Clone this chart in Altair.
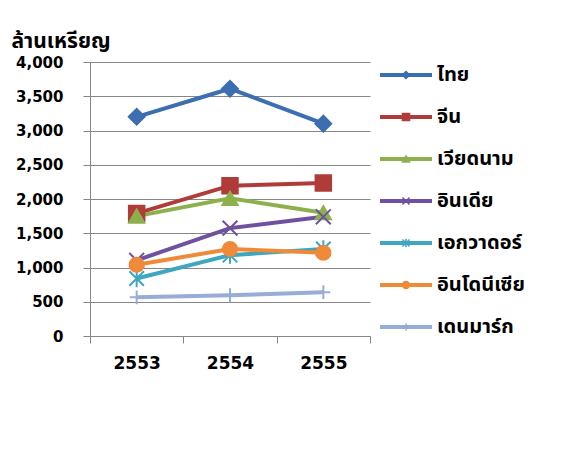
import altair as alt
import pandas as pd

years = ["2553", "2554", "2555"]
countries = ["ไทย", "จีน", "เวียดนาม", "อินเดีย", "เอกวาดอร์", "อินโดนีเซีย", "เดนมาร์ก"]
thai = [3200, 3610, 3100]
china = [1790, 2195, 2235]
vietnam = [1750, 2010, 1800]
india = [1105, 1575, 1740]
ecuador = [840, 1180, 1270]
indonesia = [1040, 1270, 1215]
denmark = [565, 595, 640]
y_title = "ล้านเหรียญ"

series = [thai, china, vietnam, india, ecuador, indonesia, denmark]
colors = ["#3c6eb0", "#b03c39", "#8cb14c", "#6f519f", "#3ea6bf", "#ee8a38", "#97acd6"]
shapes = [
    "diamond",
    "square",
    "triangle-up",
    "M-1,-1L1,1M-1,1L1,-1",
    "M-1,-1L1,1M-1,1L1,-1M0,-1.2L0,1.2",
    "circle",
    "M0,-1L0,1M-1,0L1,0",
]
sizes = [250, 190, 200, 270, 270, 170, 220]

rows = []
for c, vals in zip(countries, series):
    for y, v in zip(years, vals):
        rows.append({"year": y, "country": c, "value": v})
df = pd.DataFrame(rows)
leg_df = pd.DataFrame({"country": countries})

FONT = "'DejaVu Sans', Tahoma, 'Noto Sans Thai', sans-serif"

color_scale = alt.Scale(domain=countries, range=colors)
y_scale = alt.Scale(domain=[0, 4000], nice=False)

x_enc = alt.X(
    "year:N",
    scale=alt.Scale(paddingInner=0, paddingOuter=0),
    axis=alt.Axis(
        title=None, labelAngle=0, tickBand="extent", tickSize=7, tickColor="#868686",
        domainColor="#868686", labelFontSize=17, labelFontWeight="bold", labelColor="#000000",
        labelPadding=12, labelFont=FONT,
    ),
)

y_axis = alt.Axis(
    values=list(range(0, 4001, 500)), format=",.0f", tickSize=7, tickColor="#868686",
    domainColor="#868686", gridColor="#868686", gridWidth=1, labelFontSize=15,
    labelFontWeight="bold", labelColor="#000000", labelPadding=20, labelFont=FONT,
    title=y_title, titleAngle=0, titleX=-79, titleY=-15, titleAlign="left",
    titleBaseline="alphabetic", titleFontSize=21, titleFontWeight="bold",
    titleColor="#000000", titleFont=FONT,
)

lines = alt.Chart(df).mark_line(strokeWidth=4).encode(
    x=x_enc,
    y=alt.Y("value:Q", scale=y_scale, axis=y_axis),
    color=alt.Color("country:N", scale=color_scale, legend=None),
    detail="country:N",
)

points = alt.Chart(df).mark_point(filled=True, opacity=1, strokeWidth=2).encode(
    x=x_enc,
    y=alt.Y("value:Q", scale=y_scale, axis=y_axis),
    color=alt.Color("country:N", scale=color_scale, legend=None),
    stroke=alt.Stroke("country:N", scale=color_scale, legend=None),
    shape=alt.Shape("country:N", scale=alt.Scale(domain=countries, range=shapes), legend=None),
    size=alt.Size("country:N", scale=alt.Scale(domain=countries, range=sizes), legend=None),
)

data_layer = alt.layer(lines, points)

leg_y = alt.Y("country:N", sort=countries,
              scale=alt.Scale(type="point", domain=countries, padding=0.262), axis=None)

leg_rule = alt.Chart(leg_df).mark_rule(strokeWidth=4, yOffset=2).encode(
    x=alt.value(290), x2=alt.value(342), y=leg_y,
    color=alt.Color("country:N", scale=color_scale, legend=None),
)
leg_pt = alt.Chart(leg_df).mark_point(filled=True, opacity=1, strokeWidth=1.5, size=50, yOffset=2).encode(
    x=alt.value(316), y=leg_y,
    color=alt.Color("country:N", scale=color_scale, legend=None),
    stroke=alt.Stroke("country:N", scale=color_scale, legend=None),
    shape=alt.Shape("country:N", scale=alt.Scale(domain=countries, range=shapes), legend=None),
)
leg_text = alt.Chart(leg_df).mark_text(
    align="left", baseline="middle", fontSize=20, fontWeight="bold", font=FONT, color="#000000", yOffset=2
).encode(
    x=alt.value(347), y=leg_y, text="country:N",
)

legend_layer = alt.layer(leg_rule, leg_pt, leg_text)

chart = alt.layer(data_layer, legend_layer).resolve_scale(y="independent").properties(
    width=280,
    height=274,
    autosize=alt.AutoSizeParams(type="none"),
    padding={"left": 82, "top": 54, "right": 176, "bottom": 100},
    background="#ffffff",
).configure_view(stroke=None)

chart.save("out.html", embed_options={"renderer": "svg", "actions": False})
